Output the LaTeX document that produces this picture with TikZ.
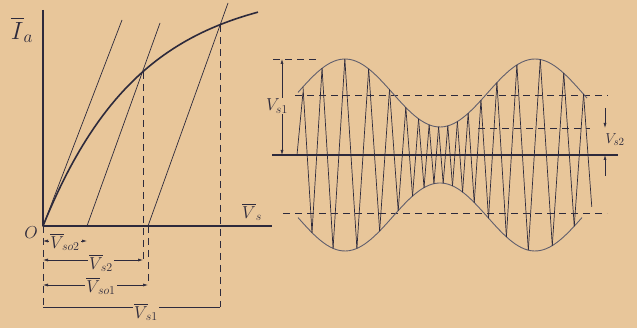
\documentclass[tikz,border=0pt]{standalone}
\usepackage{amsmath,amssymb}
\usepackage{xcolor}
\usetikzlibrary{arrows.meta,calc,positioning}
\definecolor{paper}{RGB}{232,198,154}
\definecolor{ink}{RGB}{45,42,60}
\tikzset{dim/.style={ink,line width=0.6pt,{Latex[length=5pt,width=3pt]}-{Latex[length=5pt,width=3pt]}},
  guide/.style={ink,line width=0.8pt,dash pattern=on 7pt off 5pt},
  wave/.style={ink,line width=0.7pt},
  lbl/.style={ink,fill=paper,inner sep=1pt,font=\fontsize{17}{18}\selectfont}}

\begin{document}
\begin{tikzpicture}[x=1pt,y=-1pt,line join=round]
\fill[paper] (0,0) rectangle (637,328);
\useasboundingbox (0,0) rectangle (637,328);
\coordinate (O) at (43,226);
\coordinate (A2) at (87,226);
\coordinate (A1) at (148,226);
\coordinate (P2) at (143,72);
\coordinate (P1) at (220,25);
\coordinate (r1) at (0,241);
\coordinate (r2) at (0,260);
\coordinate (r3) at (0,285);
\coordinate (r4) at (0,307);
\draw[ink,line width=1.4pt] (43,10)--(O)--(272,226);
\node[ink,font=\fontsize{24}{26}\selectfont] (Ia) at (22,30){$\overline{I}_a$};
\node[ink,font=\fontsize{17}{18}\selectfont] (Onode) at (31,233){$O$};
\node[lbl] (Vs) at (252,212){$\overline{V}_s$};
\draw[ink,line width=1.6pt,domain=43:258,samples=60,smooth] plot (\x,{226-240*(1-exp(-(\x-43)/97))});
\draw[ink,line width=0.7pt] (O)--(122,20) (A2)--(160,23) (A1)--(228,3);
\draw[guide] (P2)--(P2|-r2) (A1)--(A1|-r3) (P1)--(P1|-r4) (O)--(O|-r4);
\draw[ink,line width=0.8pt] (O|-r4)--(P1|-r4);
\draw[dim] (O|-r1)--(A2|-r1);
\draw[dim] (O|-r2)--(P2|-r2);
\draw[dim] (O|-r3)--(A1|-r3);
\node[lbl] (Vso2) at (65,242){$\overline{V}_{\!so2}$};
\node[lbl] (Vs2) at (101,263){$\overline{V}_{\!s2}$};
\node[lbl] (Vso1) at (101,286){$\overline{V}_{\!so1}$};
\node[lbl] (Vs1) at (146,312){$\overline{V}_{\!s1}$};
\coordinate (L) at (272,155);
\coordinate (R) at (618,155);
\draw[ink,line width=1.4pt] (L)--(R);
\draw[guide] (273,59)--(318,59) (295,95)--(608,95) (478,128)--(590,128) (283,213)--(607,213);
\draw[ink!75,line width=0.9pt,domain=298:587,samples=90] plot (\x,{93-34*cos(1.894737*(\x-345))});
\draw[ink!75,line width=0.9pt,domain=298:582,samples=90] plot (\x,{217+34*cos(1.894737*(\x-345))});
\xdef\cx{303}\xdef\sg{1}
\draw[wave] (297,155)--(303,{155-62.6});
\foreach \k in {1,...,70}{
  \pgfmathsetmacro\aa{62+34*cos(1.894737*(\cx-345))}
  \pgfmathsetmacro\nx{\cx+1.5+0.11*\aa}
  \pgfmathsetmacro\ab{62+34*cos(1.894737*(\nx-345))}
  \ifdim\nx pt<592pt \draw[wave] (\cx,{155-\sg*\aa})--(\nx,{155+\sg*\ab}); \fi
  \xdef\cx{\nx}\xdef\sg{\number-\sg}
}
\draw[dim] (282,59)--(282,155);
\node[lbl] (Vs1r) at (277,106){$V_{s1}$};
\draw[ink,line width=0.6pt,-{Latex[length=5pt,width=3pt]}] (605,108)--(605,128);
\draw[ink,line width=0.6pt,-{Latex[length=5pt,width=3pt]}] (605,176)--(605,155);
\node[ink,font=\fontsize{15}{16}\selectfont] (Vs2r) at (615,140){$V_{s2}$};
\end{tikzpicture}
\end{document}
